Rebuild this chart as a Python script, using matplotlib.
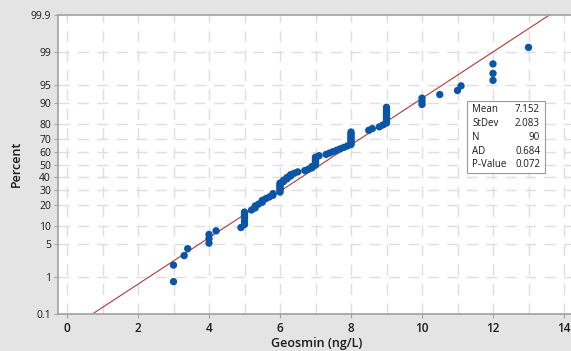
import matplotlib
matplotlib.use("Agg")
import matplotlib.pyplot as plt
from matplotlib.patches import Rectangle
from statistics import NormalDist
import numpy as np

# ---- data ----
geosmin = [3.0, 3.0, 3.3, 3.4, 4.0, 4.0, 4.0, 4.2, 4.9,
           5.0, 5.0, 5.0, 5.0, 5.0, 5.0,
           5.2, 5.3, 5.3, 5.4, 5.5, 5.5, 5.6, 5.7, 5.8, 5.8,
           6.0, 6.0, 6.0, 6.0, 6.0, 6.0, 6.0,
           6.1, 6.1, 6.2, 6.2, 6.3, 6.3, 6.4, 6.5,
           6.7, 6.8, 6.9, 6.9,
           7.0, 7.0, 7.0, 7.0, 7.0, 7.0, 7.0,
           7.1, 7.3, 7.4, 7.5, 7.6, 7.7, 7.8, 7.9,
           8.0, 8.0, 8.0, 8.0, 8.0, 8.0, 8.0, 8.0, 8.0,
           8.5, 8.6, 8.8, 8.9,
           9.0, 9.0, 9.0, 9.0, 9.0, 9.0, 9.0, 9.0,
           10.0, 10.0, 10.0, 10.5, 11.0, 11.1,
           12.0, 12.0, 12.0, 13.0]
mean_val = 7.152
stdev_val = 2.083
n_val = 90
ad_val = 0.684
p_val = 0.072
y_ticks_pct = [0.1, 1, 5, 10, 20, 30, 40, 50, 60, 70, 80, 90, 95, 99, 99.9]
y_tick_labels = ["0.1", "1", "5", "10", "20", "30", "40", "50", "60", "70",
                 "80", "90", "95", "99", "99.9"]
x_ticks = [0, 2, 4, 6, 8, 10, 12, 14]

nd = NormalDist()
xs = np.sort(np.array(geosmin))
n = len(xs)
ranks = np.arange(1, n + 1)
pp = (ranks - 0.3) / (n + 0.4)
zs = np.array([nd.inv_cdf(p) for p in pp])

W, H = 571, 351
fig = plt.figure(figsize=(W / 100, H / 100), dpi=100)
fig.patch.set_facecolor("#e4e4e4")

left_px, right_px, top_px, bot_px = 58, 580, 15, 314
ax = fig.add_axes([left_px / W, (H - bot_px) / H, (right_px - left_px) / W,
                   (bot_px - top_px) / H])
ax.set_facecolor("white")

px_per_unit = 35.5
x0_px = 67
ax.set_xlim((left_px - x0_px) / px_per_unit, (right_px - x0_px) / px_per_unit)
zlo = nd.inv_cdf(0.001)
zhi = nd.inv_cdf(0.999)
ax.set_ylim(zlo, zhi)

# grid
grid_kw = dict(color="#dedede", lw=1.0, dashes=(8, 6), zorder=0)
for gx in range(0, 15):
    ax.axvline(gx, **grid_kw)
for p in y_ticks_pct[1:-1]:
    ax.axhline(nd.inv_cdf(p / 100), **grid_kw)

# fit line
zline = np.array([zlo, zhi])
xline = mean_val + zline * stdev_val
ax.plot(xline, zline, color="#b03a3a", lw=0.8, zorder=2)

# points
ax.scatter(xs, zs, s=28, color="#0b55a6", edgecolors="none", zorder=3)

# axes styling
ax.set_yticks([nd.inv_cdf(p / 100) for p in y_ticks_pct])
ax.set_yticklabels(y_tick_labels)
ax.set_xticks(x_ticks)
ax.set_xticklabels([str(t) for t in x_ticks])
for s in ["left", "bottom", "top"]:
    ax.spines[s].set_color("#a0a0a0")
    ax.spines[s].set_linewidth(1.2)
ax.spines["right"].set_visible(False)
ax.tick_params(axis="y", length=3, color="#a0a0a0", labelsize=7.5,
               labelcolor="#1a1a1a", pad=2)
ax.tick_params(axis="x", length=3, color="#a0a0a0", labelsize=8.5,
               labelcolor="#1a1a1a", pad=3)
for lab in ax.get_xticklabels() + ax.get_yticklabels():
    lab.set_family("Open Sans")
for lab in ax.get_xticklabels():
    lab.set_fontweight("semibold")

fig.text(16 / W, 1 - 164 / H, "Percent", rotation=90, ha="center", va="center",
         fontsize=9, family="Open Sans", fontweight="semibold", color="#1a1a1a")
fig.text(317 / W, 1 - 343 / H, "Geosmin (ng/L)", ha="center", va="center",
         fontsize=9, family="Open Sans", fontweight="semibold", color="#1a1a1a")

# stats box
bx0, by0, bx1, by1 = 467, 101, 545, 173
fig.patches.append(Rectangle((bx0 / W, 1 - by1 / H), (bx1 - bx0) / W,
                             (by1 - by0) / H, transform=fig.transFigure,
                             facecolor="white", edgecolor="#9a9a9a", lw=0.8,
                             zorder=5))
rows = [("Mean", f"{mean_val:.3f}"), ("StDev", f"{stdev_val:.3f}"),
        ("N", f"{n_val}"), ("AD", f"{ad_val:.3f}"), ("P-Value", f"{p_val:.3f}")]
row_y = [110, 124, 137, 151, 164]
for (k, v), yy in zip(rows, row_y):
    fig.text(472 / W, 1 - yy / H, k, ha="left", va="center", fontsize=7,
             family="Open Sans", color="#1a1a1a", zorder=6)
    fig.text(540 / W, 1 - yy / H, v, ha="right", va="center", fontsize=7,
             family="Open Sans", color="#1a1a1a", zorder=6)

fig.savefig("out.png", dpi=100, facecolor=fig.get_facecolor())
